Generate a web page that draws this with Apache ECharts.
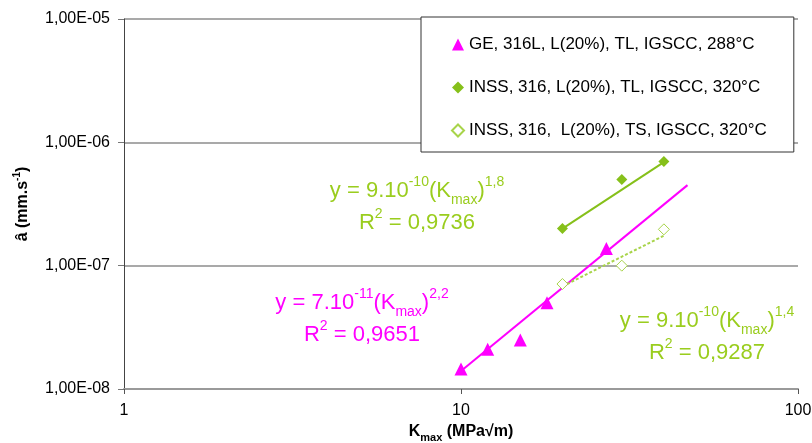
<!DOCTYPE html>
<html>
<head>
<meta charset="utf-8">
<script src="https://cdn.jsdelivr.net/npm/echarts@6/dist/echarts.min.js"></script>
<style>
html,body{margin:0;padding:0;background:#fff;}
#chart{width:812px;height:443px;}
</style>
</head>
<body>
<div id="chart"></div>
<script>
// ---- data ----
const seriesNames = [
  'GE, 316L, L(20%), TL, IGSCC, 288°C',
  'INSS, 316, L(20%), TL, IGSCC, 320°C',
  'INSS, 316,  L(20%), TS, IGSCC, 320°C'
];
const geK = [10, 12, 15, 18, 27];
const geA = [1.45e-8, 2.1e-8, 2.5e-8, 5.0e-8, 1.38e-7];
const tlK = [20, 30, 40];
const tlA = [2.0e-7, 5.0e-7, 7.0e-7];
const tsK = [20, 30, 40];
const tsA = [7.1e-8, 1.0e-7, 1.97e-7];
// trend line end points (as drawn)
const geTrendK = [10, 47];
const geTrendA = [1.4e-8, 4.5e-7];
const tlTrendK = [20, 40];
const tlTrendA = [2.0e-7, 6.9e-7];
const tsTrendK = [20, 40];
const tsTrendA = [6.8e-8, 1.75e-7];
// tick labels
const xTickLabels = {0: '1', 1: '10', 2: '100'};
const yTickLabels = {'-8': '1,00E-08', '-7': '1,00E-07', '-6': '1,00E-06', '-5': '1,00E-05'};

const FONT = "'Liberation Sans', Arial, sans-serif";
const MAGENTA = '#FF00FF';
const GREEN = '#86C01A';
const GREEN_TXT = '#9ACD1E';
const GREEN_LIGHT = '#A8D44A';

const zip = (a, b) => a.map((v, i) => [v, b[i]]);

const eqRich = (c) => ({
  n: {fontSize: 22, lineHeight: 32, fill: c, color: c, fontFamily: FONT},
  sup: {fontSize: 14, verticalAlign: 'top', fill: c, color: c, fontFamily: FONT},
  sub: {fontSize: 14, verticalAlign: 'bottom', fill: c, color: c, fontFamily: FONT}
});

const chart = echarts.init(document.getElementById('chart'), null, {renderer: 'canvas'});
chart.setOption({
  animation: false,
  backgroundColor: '#fff',
  grid: {left: 124, right: 14, top: 19, bottom: 54, containLabel: false, outerBoundsMode: 'none'},
  xAxis: {
    type: 'log', logBase: 10, min: 1, max: 100,
    name: '{a|K}{s|max}{a| (MPa√m)}',
    nameLocation: 'middle', nameGap: 32,
    nameTextStyle: {
      rich: {
        a: {fontSize: 16, fontWeight: 'bold', color: '#000', fontFamily: FONT, lineHeight: 22},
        s: {fontSize: 11, fontWeight: 'bold', color: '#000', fontFamily: FONT, verticalAlign: 'bottom'}
      }
    },
    axisLine: {show: true, lineStyle: {color: '#9a9a9a', width: 2}},
    axisTick: {show: true, inside: false, length: 5, lineStyle: {color: '#555'}},
    minorTick: {show: false},
    splitLine: {show: false},
    axisLabel: {
      fontSize: 16, color: '#000', fontFamily: FONT, margin: 14,
      formatter: (v) => xTickLabels[Math.round(Math.log10(v))] || ''
    }
  },
  yAxis: {
    type: 'log', logBase: 10, min: 1e-8, max: 1e-5,
    name: '{a|â (mm.s}{s|-1}{a|)}',
    nameLocation: 'middle', nameRotate: 90, nameGap: 90,
    nameTextStyle: {
      rich: {
        a: {fontSize: 16, fontWeight: 'bold', color: '#000', fontFamily: FONT, lineHeight: 22},
        s: {fontSize: 10, fontWeight: 'bold', color: '#000', fontFamily: FONT, verticalAlign: 'top'}
      }
    },
    axisLine: {show: true, lineStyle: {color: '#444', width: 1}},
    axisTick: {show: true, inside: false, length: 6, lineStyle: {color: '#777'}},
    minorTick: {show: false},
    splitLine: {show: true, lineStyle: {color: '#8c8c8c', width: 1.5}},
    axisLabel: {
      fontSize: 16, color: '#000', fontFamily: FONT, margin: 14,
      formatter: (v) => yTickLabels[String(Math.round(Math.log10(v)))] || ''
    }
  },
  legend: {
    orient: 'vertical',
    left: 421, top: 17,
    padding: [19, 27, 13, 30],
    itemGap: 26,
    itemWidth: 12, itemHeight: 12,
    backgroundColor: '#fff',
    borderColor: '#333', borderWidth: 1,
    textStyle: {fontSize: 17, color: '#000', fontFamily: FONT},
    data: seriesNames
  },
  graphic: [
    {type: 'text', x: 417, y: 207, z: 10, style: {
      text: '{n|y = 9.10}{sup|-10}{n|(K}{sub|max}{n|)}{sup|1,8}\n{n|R}{sup|2}{n| = 0,9736}',
      rich: eqRich(GREEN_TXT), fill: GREEN_TXT, align: 'center', verticalAlign: 'middle', textAlign: 'center', textVerticalAlign: 'middle'}},
    {type: 'text', x: 362, y: 319, z: 10, style: {
      text: '{n|y = 7.10}{sup|-11}{n|(K}{sub|max}{n|)}{sup|2,2}\n{n|R}{sup|2}{n| = 0,9651}',
      rich: eqRich(MAGENTA), fill: MAGENTA, align: 'center', verticalAlign: 'middle', textAlign: 'center', textVerticalAlign: 'middle'}},
    {type: 'text', x: 707, y: 337, z: 10, style: {
      text: '{n|y = 9.10}{sup|-10}{n|(K}{sub|max}{n|)}{sup|1,4}\n{n|R}{sup|2}{n| = 0,9287}',
      rich: eqRich(GREEN_TXT), fill: GREEN_TXT, align: 'center', verticalAlign: 'middle', textAlign: 'center', textVerticalAlign: 'middle'}}
  ],
  series: [
    {name: 'geTrend', type: 'line', data: zip(geTrendK, geTrendA), showSymbol: false, symbol: 'none',
     lineStyle: {color: MAGENTA, width: 2}, z: 2, silent: true},
    {name: 'tlTrend', type: 'line', data: zip(tlTrendK, tlTrendA), showSymbol: false, symbol: 'none',
     lineStyle: {color: GREEN, width: 2}, z: 2, silent: true},
    {name: 'tsTrend', type: 'line', data: zip(tsTrendK, tsTrendA), showSymbol: false, symbol: 'none',
     lineStyle: {color: GREEN_LIGHT, width: 2, type: [3, 2]}, z: 2, silent: true},
    {name: seriesNames[0], type: 'scatter', data: zip(geK, geA), symbol: 'triangle', symbolSize: 13,
     itemStyle: {color: MAGENTA, opacity: 1}, z: 5},
    {name: seriesNames[1], type: 'scatter', data: zip(tlK, tlA), symbol: 'diamond', symbolSize: 11,
     itemStyle: {color: GREEN, opacity: 1}, z: 5},
    {name: seriesNames[2], type: 'scatter', data: zip(tsK, tsA), symbol: 'diamond', symbolSize: 11,
     itemStyle: {color: '#fff', borderColor: GREEN_LIGHT, borderWidth: 1, opacity: 1}, z: 5}
  ]
});
</script>
</body>
</html>
